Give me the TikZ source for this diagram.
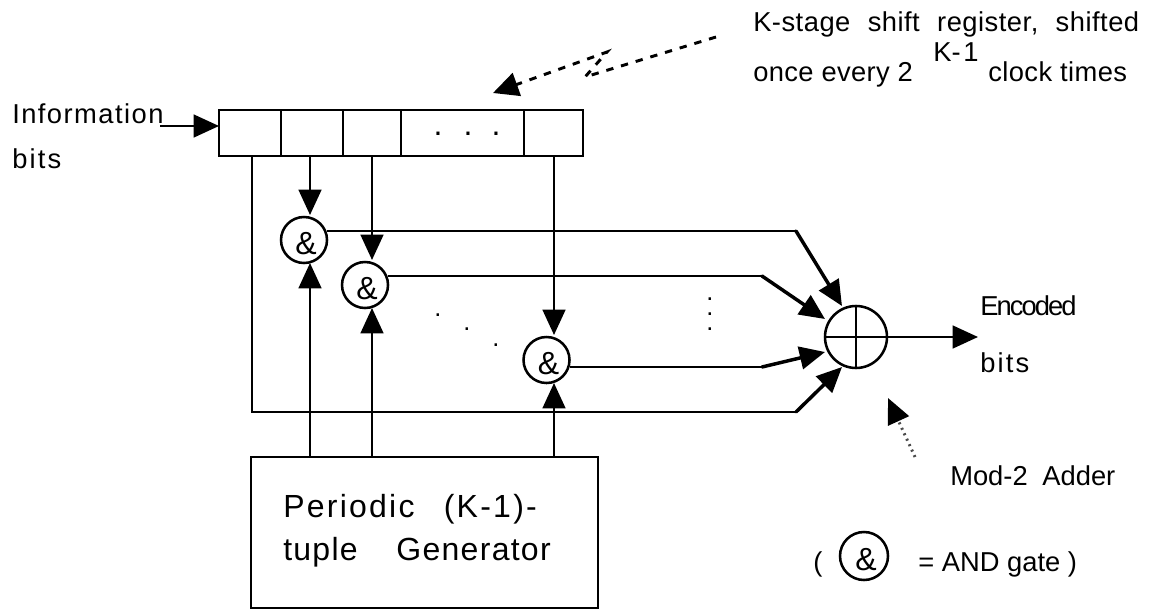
\documentclass[tikz,border=0pt]{standalone}
\usepackage{fontspec}
\setmainfont{Liberation Sans}
\usetikzlibrary{arrows.meta}
\newcommand{\andsym}{\hspace{3pt}\smash{\raisebox{-.45em}{\&}}}
\tikzset{
  x=0.75pt,y=-0.75pt,
  wire/.style={line width=1.9pt,draw=black},
  tip/.style={-{Triangle[length=19pt,width=17pt]}},
  arr/.style={wire,tip},
  slant/.style={line width=2.6pt,draw=black,line cap=round,tip},
  dasharr/.style={line width=2.2pt,dash pattern=on 5.5pt off 6pt,-{Triangle[length=19pt,width=18pt]}},
  dotarr/.style={line width=2.2pt,draw=black!70,dash pattern=on 1.5pt off 3pt,-{Triangle[length=19pt,width=17pt,color=black]}},
  box/.style={draw,line width=1.9pt,inner sep=0pt,outer sep=0pt,anchor=north west},
  cell/.style={box,minimum height=34.5pt},
  gate/.style={circle,draw,line width=1.9pt,minimum size=34.5pt,inner sep=0pt,outer sep=0pt,font=\fontsize{24}{24}\selectfont},
  txt/.style={anchor=base west,inner sep=0pt,font=\fontsize{20.5}{24}\selectfont},
  gtxt/.style={anchor=base west,inner sep=0pt,font=\fontsize{24}{28}\selectfont},
  dotmark/.style={anchor=base,inner sep=0pt,font=\fontsize{24}{24}\selectfont},
  smalldot/.style={anchor=base,inner sep=0pt,font=\fontsize{19}{19}\selectfont},
}
\begin{document}
\begin{tikzpicture}
\useasboundingbox (0,0) rectangle (1152,610);
% register
\node[cell,minimum width=46.5pt] (c1) at (219,110) {};
\node[cell,minimum width=46.5pt] (c2) at (281,110) {};
\node[cell,minimum width=43.5pt] (c3) at (343,110) {};
\node[cell,minimum width=92.25pt] (c4) at (401,110) {};
\node[cell,minimum width=44.25pt] (c5) at (524,110) {};
\node[dotmark] (rd1) at (438,135.5) {.};
\node[dotmark] (rd2) at (468,135.5) {.};
\node[dotmark] (rd3) at (496,135.5) {.};
% gates
\node[gate] (g1) at (304,240) {\andsym};
\node[gate] (g2) at (365,285) {\andsym};
\node[gate] (g3) at (546.5,360) {\andsym};
\node[circle,draw,line width=1.9pt,minimum size=46.5pt,inner sep=0pt,outer sep=0pt] (add) at (856,337) {};
\draw[wire] (add.north)--(add.south) (add.west)--(add.east);
% generator
\node[box,minimum width=260.25pt,minimum height=113.25pt] (gen) at (251,457) {};
\node[gtxt] (gt1) at (283,517) {\addfontfeature{LetterSpace=7}Periodic\hspace{22pt}(K-1)-};
\node[gtxt] (gt2) at (283,560) {\addfontfeature{LetterSpace=4}tuple\hspace{29pt}Generator};
% connector coordinates
\coordinate (s2) at (310,156);
\coordinate (s3) at (372,156);
\coordinate (s5) at (554,156);
\coordinate (s1) at (252,156);
\coordinate (t1) at (310,215);
\coordinate (t2) at (372,260);
\coordinate (t3) at (554,335);
\coordinate (b1) at (310,263);
\coordinate (b2) at (372,308);
\coordinate (b3) at (554,383);
\coordinate (f1) at (310,457);
\coordinate (f2) at (372,457);
\coordinate (f3) at (554,457);
\draw[arr] (s2)--(t1);
\draw[arr] (s3)--(t2);
\draw[arr] (s5)--(t3);
\draw[arr] (f1)--(b1);
\draw[arr] (f2)--(b2);
\draw[arr] (f3)--(b3);
% to adder
\coordinate (a1) at (842,306);
\coordinate (a2) at (825,319);
\coordinate (a3) at (825,352);
\coordinate (a4) at (842,367);
\coordinate (o1) at (327,231);
\coordinate (o2) at (388,276);
\coordinate (o3) at (570,367);
\coordinate (k1) at (796,231);
\coordinate (k2) at (762,276);
\coordinate (k3) at (762,367);
\coordinate (k4) at (796,412);
\coordinate (l4) at (252,412);
\draw[wire] (o1)--(k1);
\draw[slant] (k1)--(a1);
\draw[wire] (o2)--(k2);
\draw[slant] (k2)--(a2);
\draw[wire] (o3)--(k3);
\draw[slant] (k3)--(a3);
\draw[wire] (s1)--(l4)--(k4);
\draw[slant] (k4)--(a4);
% input and output
\coordinate (inp) at (160,126);
\draw[arr] (inp)--(c1.west|-inp);
\coordinate (outp) at (978,337);
\draw[arr] (add.east)--(outp);
% dashed pointer
\coordinate (d0) at (716,37);
\coordinate (d1) at (585,77);
\coordinate (d2) at (607,52);
\coordinate (d3) at (493,93);
\draw[dasharr] (d0)--(d1)--(d2)--(d3);
% dotted pointer
\coordinate (m0) at (915,457);
\coordinate (m1) at (888,398);
\draw[dotarr] (m0)--(m1);
% labels
\node[txt] (l1) at (753,32) {\addfontfeature{LetterSpace=1.8}K-stage\hspace{13pt}shift\hspace{13pt}register,\hspace{13pt}shifted};
\node[txt] (l2) at (753,82) {\addfontfeature{LetterSpace=1.3}once every 2};
\node[txt] (l3) at (933,62) {K-\hspace{2pt}1};
\node[txt] (l4t) at (988,82) {\addfontfeature{LetterSpace=1.5}clock times};
\node[txt] (i1) at (12,123) {\addfontfeature{LetterSpace=5.3}Information};
\node[txt] (i2) at (12,168) {\addfontfeature{LetterSpace=8}bits};
\node[txt] (e1) at (980,315) {\addfontfeature{LetterSpace=-7}Encoded};
\node[txt] (e2) at (980,372) {\addfontfeature{LetterSpace=8}bits};
\node[txt] (m) at (950,485) {Mod-2\hspace{11pt}Adder};
\node[txt] (p1) at (813,571) {(};
\node[gate,minimum size=36pt] (lg) at (864,556) {\andsym};
\node[txt] (p2) at (918,571) {= AND gate )};
% dots
\node[smalldot] (gd1) at (438,316.3) {.};
\node[smalldot] (gd2) at (467,330.3) {.};
\node[smalldot] (gd3) at (496,346.3) {.};
\node[anchor=south,inner sep=0pt,align=center,font=\fontsize{19}{11}\selectfont] (vd) at (710,330.5) {.\\.\\.};
\end{tikzpicture}
\end{document}
